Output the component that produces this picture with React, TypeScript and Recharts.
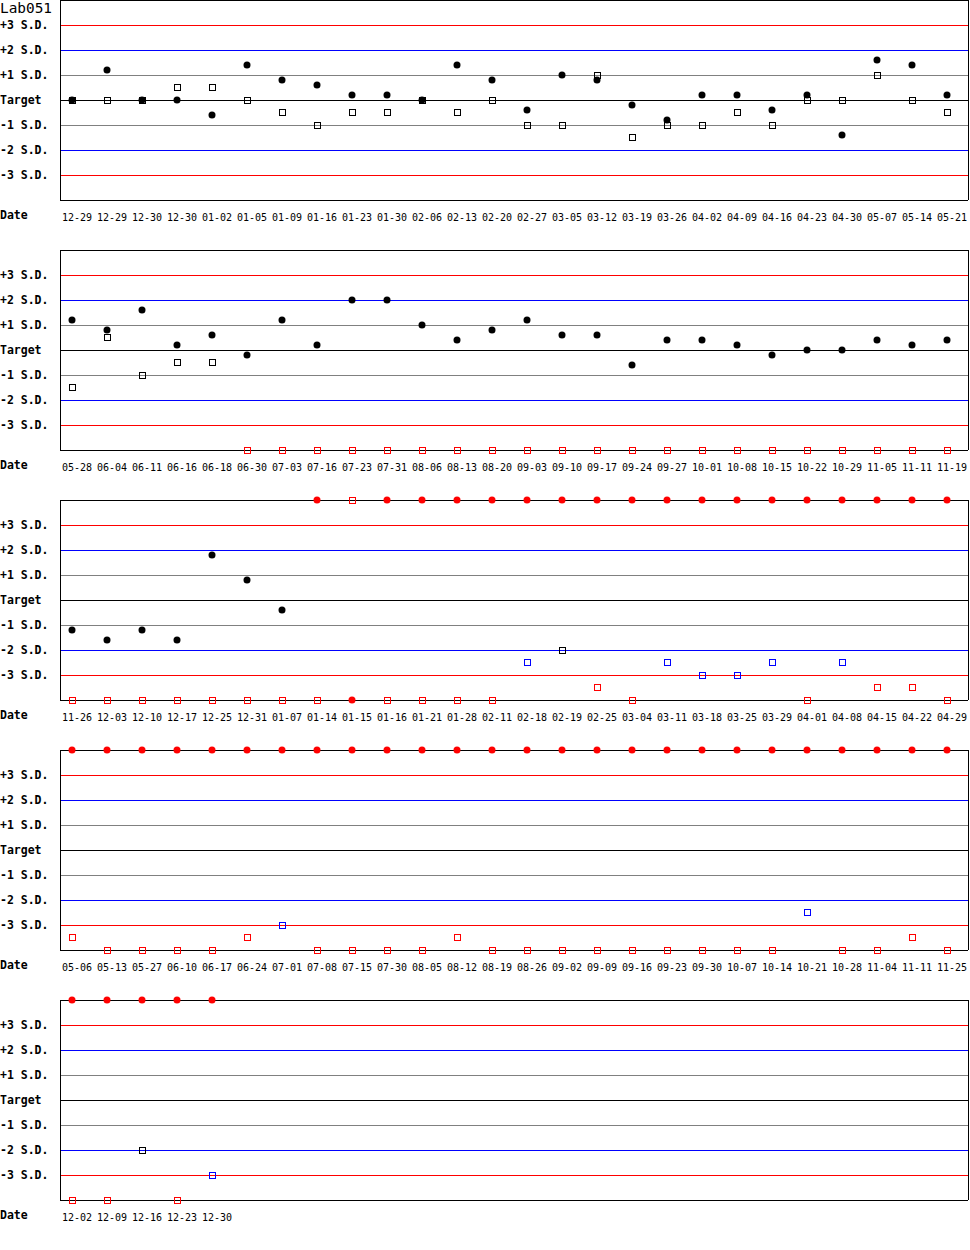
import { ScatterChart, Scatter, XAxis, YAxis, ReferenceLine } from "recharts";

const MONO = "'DejaVu Sans Mono', monospace";

// x scale: 35px per run, first run 12px inside the box
const X_MIN = -12 / 35;
const X_MAX = 25.6;

const yTicks = [3, 2, 1, 0, -1, -2, -3];
const yTickLabels = ["+3 S.D.", "+2 S.D.", "+1 S.D.", "Target", "-1 S.D.", "-2 S.D.", "-3 S.D."];

// ---- page 1
const dates1 = ["12-29", "12-29", "12-30", "12-30", "01-02", "01-05", "01-09", "01-16", "01-23", "01-30", "02-06", "02-13", "02-20", "02-27", "03-05", "03-12", "03-19", "03-26", "04-02", "04-09", "04-16", "04-23", "04-30", "05-07", "05-14", "05-21"];
const level1_p1 = [0, 1.2, 0, 0, -0.6, 1.4, 0.8, 0.6, 0.2, 0.2, 0, 1.4, 0.8, -0.4, 1.0, 0.8, -0.2, -0.8, 0.2, 0.2, -0.4, 0.2, -1.4, 1.6, 1.4, 0.2];
const level2_p1 = [0, 0, 0, 0.5, 0.5, 0, -0.5, -1, -0.5, -0.5, 0, -0.5, 0, -1, -1, 1, -1.5, -1, -1, -0.5, -1, 0, 0, 1, 0, -0.5];
const status1_p1 = ["ok", "ok", "ok", "ok", "ok", "ok", "ok", "ok", "ok", "ok", "ok", "ok", "ok", "ok", "ok", "ok", "ok", "ok", "ok", "ok", "ok", "ok", "ok", "ok", "ok", "ok"];
const status2_p1 = ["ok", "ok", "ok", "ok", "ok", "ok", "ok", "ok", "ok", "ok", "ok", "ok", "ok", "ok", "ok", "ok", "ok", "ok", "ok", "ok", "ok", "ok", "ok", "ok", "ok", "ok"];

// ---- page 2
const dates2 = ["05-28", "06-04", "06-11", "06-16", "06-18", "06-30", "07-03", "07-16", "07-23", "07-31", "08-06", "08-13", "08-20", "09-03", "09-10", "09-17", "09-24", "09-27", "10-01", "10-08", "10-15", "10-22", "10-29", "11-05", "11-11", "11-19"];
const level1_p2 = [1.2, 0.8, 1.6, 0.2, 0.6, -0.2, 1.2, 0.2, 2, 2, 1, 0.4, 0.8, 1.2, 0.6, 0.6, -0.6, 0.4, 0.4, 0.2, -0.2, 0, 0, 0.4, 0.2, 0.4];
const level2_p2 = [-1.5, 0.5, -1, -0.5, -0.5, -4, -4, -4, -4, -4, -4, -4, -4, -4, -4, -4, -4, -4, -4, -4, -4, -4, -4, -4, -4, -4];
const status1_p2 = ["ok", "ok", "ok", "ok", "ok", "ok", "ok", "ok", "ok", "ok", "ok", "ok", "ok", "ok", "ok", "ok", "ok", "ok", "ok", "ok", "ok", "ok", "ok", "ok", "ok", "ok"];
const status2_p2 = ["ok", "ok", "ok", "ok", "ok", "fail", "fail", "fail", "fail", "fail", "fail", "fail", "fail", "fail", "fail", "fail", "fail", "fail", "fail", "fail", "fail", "fail", "fail", "fail", "fail", "fail"];

// ---- page 3
const dates3 = ["11-26", "12-03", "12-10", "12-17", "12-25", "12-31", "01-07", "01-14", "01-15", "01-16", "01-21", "01-28", "02-11", "02-18", "02-19", "02-25", "03-04", "03-11", "03-18", "03-25", "03-29", "04-01", "04-08", "04-15", "04-22", "04-29"];
const level1_p3 = [-1.2, -1.6, -1.2, -1.6, 1.8, 0.8, -0.4, 4, -4, 4, 4, 4, 4, 4, 4, 4, 4, 4, 4, 4, 4, 4, 4, 4, 4, 4];
const level2_p3 = [-4, -4, -4, -4, -4, -4, -4, -4, 4, -4, -4, -4, -4, -2.5, -2, -3.5, -4, -2.5, -3, -3, -2.5, -4, -2.5, -3.5, -3.5, -4];
const status1_p3 = ["ok", "ok", "ok", "ok", "ok", "ok", "ok", "fail", "fail", "fail", "fail", "fail", "fail", "fail", "fail", "fail", "fail", "fail", "fail", "fail", "fail", "fail", "fail", "fail", "fail", "fail"];
const status2_p3 = ["fail", "fail", "fail", "fail", "fail", "fail", "fail", "fail", "fail", "fail", "fail", "fail", "fail", "warn", "ok", "fail", "fail", "warn", "warn", "warn", "warn", "fail", "warn", "fail", "fail", "fail"];

// ---- page 4
const dates4 = ["05-06", "05-13", "05-27", "06-10", "06-17", "06-24", "07-01", "07-08", "07-15", "07-30", "08-05", "08-12", "08-19", "08-26", "09-02", "09-09", "09-16", "09-23", "09-30", "10-07", "10-14", "10-21", "10-28", "11-04", "11-11", "11-25"];
const level1_p4 = [4, 4, 4, 4, 4, 4, 4, 4, 4, 4, 4, 4, 4, 4, 4, 4, 4, 4, 4, 4, 4, 4, 4, 4, 4, 4];
const level2_p4 = [-3.5, -4, -4, -4, -4, -3.5, -3, -4, -4, -4, -4, -3.5, -4, -4, -4, -4, -4, -4, -4, -4, -4, -2.5, -4, -4, -3.5, -4];
const status1_p4 = ["fail", "fail", "fail", "fail", "fail", "fail", "fail", "fail", "fail", "fail", "fail", "fail", "fail", "fail", "fail", "fail", "fail", "fail", "fail", "fail", "fail", "fail", "fail", "fail", "fail", "fail"];
const status2_p4 = ["fail", "fail", "fail", "fail", "fail", "fail", "warn", "fail", "fail", "fail", "fail", "fail", "fail", "fail", "fail", "fail", "fail", "fail", "fail", "fail", "fail", "warn", "fail", "fail", "fail", "fail"];

// ---- page 5
const dates5 = ["12-02", "12-09", "12-16", "12-23", "12-30"];
const level1_p5 = [4, 4, 4, 4, 4];
const level2_p5 = [-4, -4, -2, -4, -3];
const status1_p5 = ["fail", "fail", "fail", "fail", "fail"];
const status2_p5 = ["fail", "fail", "ok", "fail", "warn"];

const statusColor: Record<string, string> = {
  ok: "#000000",
  warn: "#0000ff",
  fail: "#ff0000",
};

const limitLines = [
  { y: 3, color: "#ff0000" },
  { y: 2, color: "#0000ff" },
  { y: 1, color: "#808080" },
  { y: 0, color: "#000000" },
  { y: -1, color: "#808080" },
  { y: -2, color: "#0000ff" },
  { y: -3, color: "#ff0000" },
];

function SdTick(props: any) {
  const { y, payload } = props;
  const idx = yTicks.indexOf(payload.value);
  return (
    <text x={0} y={y - 0.5} dominantBaseline="central" fontFamily={MONO} fontWeight="bold" fontSize={11.5} fill="#000">
      {yTickLabels[idx]}
    </text>
  );
}

function CircleDot(props: any) {
  const { cx, cy, payload } = props;
  return <circle cx={cx} cy={cy} r={3.5} fill={statusColor[payload.s]} />;
}

function SquareDot(props: any) {
  const { cx, cy, payload } = props;
  return (
    <rect
      x={cx - 3}
      y={cy - 3}
      width={6}
      height={6}
      fill="none"
      stroke={statusColor[payload.s]}
      strokeWidth={1}
      shapeRendering="crispEdges"
    />
  );
}

function Panel({ top, dates, lvl1, lvl2, st1, st2 }: any) {
  const circles = lvl1.map((v: number, i: number) => ({ i, v, s: st1[i] }));
  const squares = lvl2.map((v: number, i: number) => ({ i, v, s: st2[i] }));
  const ticks = dates.map((_: string, i: number) => i);

  return (
    <div style={{ position: "absolute", left: 0, top: top - 10 }}>
      <ScatterChart width={970} height={260} margin={{ top: 10, right: 2, bottom: 0, left: 0 }}>
        <XAxis
          type="number"
          dataKey="i"
          domain={[X_MIN, X_MAX]}
          ticks={ticks}
          interval={0}
          height={50}
          tickSize={0}
          tickMargin={0}
          axisLine={false}
          tickLine={false}
          tick={(p: any) => (
            <text x={p.x + 5} y={p.y + 17} textAnchor="middle" dominantBaseline="central" fontFamily={MONO} fontSize={10} fill="#000">
              {dates[p.payload.value]}
            </text>
          )}
          label={{
            content: (p: any) => (
              <text x={0} y={(p.viewBox?.y ?? 210) + 15} dominantBaseline="central" fontFamily={MONO} fontWeight="bold" fontSize={11.5} fill="#000">
                Date
              </text>
            ),
          }}
        />
        <YAxis
          type="number"
          dataKey="v"
          domain={[-4, 4]}
          ticks={yTicks}
          interval={0}
          width={60}
          axisLine={false}
          tickLine={false}
          tick={SdTick}
        />
        {limitLines.map((l) => (
          <ReferenceLine key={l.y} y={l.y} stroke={l.color} strokeWidth={1} shapeRendering="crispEdges" />
        ))}
        <ReferenceLine y={4} stroke="#000" shapeRendering="crispEdges" />
        <ReferenceLine y={-4} stroke="#000" shapeRendering="crispEdges" />
        <ReferenceLine x={X_MIN} stroke="#000" shapeRendering="crispEdges" />
        <ReferenceLine x={X_MAX} stroke="#000" shapeRendering="crispEdges" />
        <Scatter data={squares} shape={SquareDot} isAnimationActive={false} />
        <Scatter data={circles} shape={CircleDot} isAnimationActive={false} />
      </ScatterChart>
    </div>
  );
}

export default function App() {
  return (
    <div style={{ position: "absolute", left: 0, top: 0, width: 970, height: 1250, background: "#fff", overflow: "hidden" }}>
      <Panel top={0} dates={dates1} lvl1={level1_p1} lvl2={level2_p1} st1={status1_p1} st2={status2_p1} />
      <Panel top={250} dates={dates2} lvl1={level1_p2} lvl2={level2_p2} st1={status1_p2} st2={status2_p2} />
      <Panel top={500} dates={dates3} lvl1={level1_p3} lvl2={level2_p3} st1={status1_p3} st2={status2_p3} />
      <Panel top={750} dates={dates4} lvl1={level1_p4} lvl2={level2_p4} st1={status1_p4} st2={status2_p4} />
      <Panel top={1000} dates={dates5} lvl1={level1_p5} lvl2={level2_p5} st1={status1_p5} st2={status2_p5} />
      <div style={{ position: "absolute", left: 0, top: 1, fontFamily: MONO, fontSize: 14.4, lineHeight: "14.4px", color: "#000" }}>
        Lab051
      </div>
    </div>
  );
}
